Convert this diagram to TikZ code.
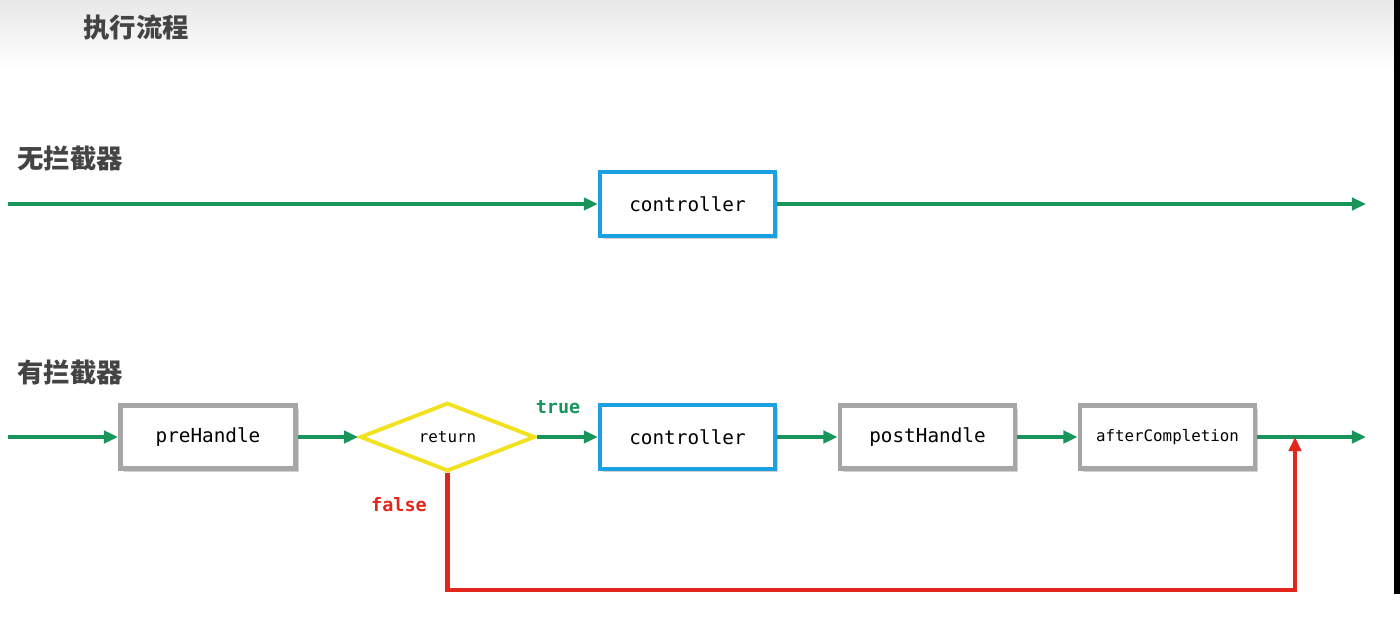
\documentclass[tikz,border=0pt]{standalone}
\usepackage{fontspec}
\setmonofont{DejaVu Sans Mono}
\newfontfamily\cjk{Noto Sans CJK SC}
\usepackage{xcolor}
\usepackage{tikz}
\usetikzlibrary{arrows.meta,shapes.geometric,shadows}
\definecolor{flowGreen}{HTML}{17955A}
\definecolor{ctrlBlue}{HTML}{1BA1E2}
\definecolor{boxGrey}{HTML}{A6A6A6}
\definecolor{decYellow}{HTML}{F2E11E}
\definecolor{falseRed}{HTML}{E3261B}
\definecolor{headGrey}{HTML}{444444}
\tikzset{
  softshadow/.style={drop shadow={shadow xshift=1.8pt, shadow yshift=-1.8pt, fill=black!35, opacity=0.5}},
  ctrlbox/.style={rectangle, draw=ctrlBlue, fill=white, line width=2.5pt, minimum width=3.5cm, minimum height=1.28cm, font=\ttfamily\fontsize{11}{13}\selectfont, softshadow},
  handbox/.style={rectangle, draw=boxGrey, fill=white, line width=2.8pt, minimum width=3.5cm, minimum height=1.26cm, font=\ttfamily\fontsize{11}{13}\selectfont, softshadow},
  decbox/.style={diamond, draw=decYellow, fill=white, line width=2.2pt, minimum width=3.5cm, minimum height=1.32cm, inner sep=0pt, font=\ttfamily\fontsize{9}{11}\selectfont},
  flowarrow/.style={-{Triangle[length=8pt,width=7pt]}, line width=2.3pt, draw=flowGreen},
  falsearrow/.style={-{Triangle[length=8pt,width=7pt]}, line width=2.3pt, draw=falseRed},
  rowlabel/.style={font=\cjk\bfseries\fontsize{15}{17}\selectfont, text=headGrey, anchor=west, inner sep=0pt},
  branchlabel/.style={font=\ttfamily\bfseries\fontsize{10.5}{12}\selectfont, inner sep=0pt},
}
\begin{document}
\begin{tikzpicture}[x=1cm,y=1cm]
  \useasboundingbox (0,0) rectangle (28,12.5);

  % ---------- background ----------
  \shade[top color=black!9, bottom color=white] (0,11.1) rectangle (28,12.5);
  \fill[black] (27.88,0.62) rectangle (28,12.5);

  % ---------- headings ----------
  \node[rowlabel] (title) at (1.66,11.94) {执行流程};
  \node[rowlabel] (nohead) at (0.34,9.34) {无拦截器};
  \node[rowlabel] (withhead) at (0.34,5.06) {有拦截器};

  % ---------- without interceptor ----------
  \coordinate (in1)  at (0.16,8.42);
  \coordinate (out1) at (27.32,8.42);
  \node[ctrlbox] (ctrl1) at (13.75,8.42) {controller};

  \draw[flowarrow] (in1) -- (ctrl1);
  \draw[flowarrow] (ctrl1) -- (out1);

  % ---------- with interceptor ----------
  \coordinate (in2)   at (0.16,3.76);
  \coordinate (out2)  at (27.32,3.76);
  \coordinate (merge) at (25.9,3.76);
  \coordinate (fbottom) at (25.9,0.7);

  \node[handbox] (pre)   at (4.16,3.76)  {preHandle};
  \node[decbox]  (ret)   at (8.95,3.76)  {return};
  \node[ctrlbox] (ctrl2) at (13.75,3.76) {controller};
  \node[handbox] (post)  at (18.55,3.76) {postHandle};
  \node[handbox, font=\ttfamily\fontsize{9}{11}\selectfont] (after) at (23.35,3.76) {afterCompletion};

  \draw[flowarrow] (in2) -- (pre);
  \draw[flowarrow] (pre) -- (ret);
  \draw[flowarrow] (ret) -- (ctrl2);
  \draw[flowarrow] (ctrl2) -- (post);
  \draw[flowarrow] (post) -- (after);
  \draw[flowarrow] (after) -- (out2);

  \node[branchlabel, text=flowGreen] (truelbl) at (11.16,4.36) {true};
  \node[branchlabel, text=falseRed] (falselbl) at (7.98,2.4) {false};

  % ---------- false branch ----------
  \draw[falsearrow] (ret.south) |- (fbottom) -- (merge);

\end{tikzpicture}
\end{document}
